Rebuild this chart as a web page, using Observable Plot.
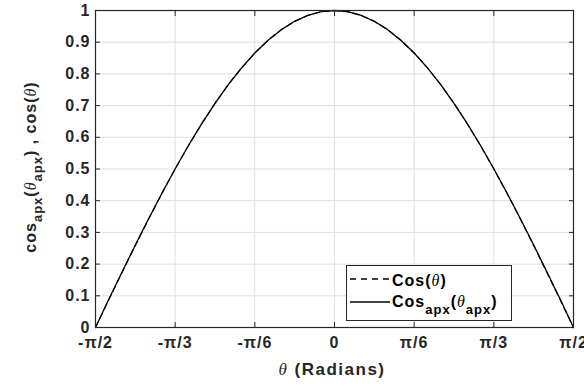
<!DOCTYPE html>
<html>
<head>
<meta charset="utf-8">
<script src="https://cdn.jsdelivr.net/npm/d3@7"></script>
<script src="https://cdn.jsdelivr.net/npm/@observablehq/plot@0.6"></script>
<style>
  html, body { margin: 0; padding: 0; background: #fff; }
  #chart { width: 584px; height: 390px; }
</style>
</head>
<body>
<div id="chart"></div>
<script>
// Angle samples, in degrees (axis shows them as fractions of π)
const thetaDeg = [-90,-85,-80,-75,-70,-65,-60,-55,-50,-45,-40,-35,-30,-25,-20,-15,-10,-5,0,5,10,15,20,25,30,35,40,45,50,55,60,65,70,75,80,85,90];
// cos(θ)
const cosValues = [0,0.0872,0.1736,0.2588,0.3420,0.4226,0.5,0.5736,0.6428,0.7071,0.7660,0.8192,0.8660,0.9063,0.9397,0.9659,0.9848,0.9962,1,0.9962,0.9848,0.9659,0.9397,0.9063,0.8660,0.8192,0.7660,0.7071,0.6428,0.5736,0.5,0.4226,0.3420,0.2588,0.1736,0.0872,0];
// cos_apx(θ_apx)
const cosApxValues = [0,0.0890,0.1752,0.2601,0.3431,0.4237,0.5008,0.5741,0.6432,0.7073,0.7661,0.8192,0.8659,0.9062,0.9396,0.9659,0.9848,0.9962,1,0.9962,0.9848,0.9659,0.9396,0.9062,0.8659,0.8192,0.7661,0.7073,0.6432,0.5741,0.5008,0.4237,0.3431,0.2601,0.1752,0.0890,0];
const xTickValues = [-90,-60,-30,0,30,60,90];
const xTickLabels = ["-π/2","-π/3","-π/6","0","π/6","π/3","π/2"];
const yTickValues = [0,0.1,0.2,0.3,0.4,0.5,0.6,0.7,0.8,0.9,1];
const yTickLabels = ["0","0.1","0.2","0.3","0.4","0.5","0.6","0.7","0.8","0.9","1"];

const cosData = thetaDeg.map((t, i) => ({t, v: cosValues[i]}));
const apxData = thetaDeg.map((t, i) => ({t, v: cosApxValues[i]}));
const xLabelMap = new Map(xTickValues.map((d, i) => [d, xTickLabels[i]]));
const yLabelMap = new Map(yTickValues.map((d, i) => [d, yTickLabels[i]]));

const axisColor = "#262626";
const gridColor = "#dfdfdf";
const ff = "'Liberation Sans', Arial, sans-serif";
const serif = "'Liberation Serif', 'DejaVu Serif', serif";

const plot = Plot.plot({
  width: 584,
  height: 390,
  marginLeft: 95,
  marginRight: 11,
  marginTop: 10,
  marginBottom: 63,
  style: {color: axisColor, fontFamily: ff, fontSize: "16px", fontWeight: "bold", letterSpacing: "1px", background: "#fff"},
  x: {domain: [-90, 90], label: null},
  y: {domain: [0, 1], label: null},
  marks: [
    Plot.gridX(xTickValues, {stroke: gridColor, strokeOpacity: 1, strokeWidth: 1}),
    Plot.gridY(yTickValues, {stroke: gridColor, strokeOpacity: 1, strokeWidth: 1}),
    Plot.line(cosData, {x: "t", y: "v", stroke: "#000", strokeWidth: 1.2, strokeDasharray: "6,4"}),
    Plot.line(apxData, {x: "t", y: "v", stroke: "#000", strokeWidth: 1.3}),
    Plot.frame({stroke: axisColor, strokeWidth: 1.2}),
    Plot.axisX(xTickValues, {anchor: "bottom", tickSize: -5, tickPadding: 14, tickFormat: d => xLabelMap.get(d), label: null}),
    Plot.axisX(xTickValues, {anchor: "top", tickSize: -5, tickFormat: () => "", label: null}),
    Plot.axisY(yTickValues, {anchor: "left", tickSize: -5, tickPadding: 10, tickFormat: d => yLabelMap.get(d), label: null}),
    Plot.axisY(yTickValues, {anchor: "right", tickSize: -5, tickFormat: () => "", label: null})
  ]
});
document.getElementById("chart").appendChild(plot);

// Axis titles and legend (text with sub-scripts)
const svg = d3.select(plot);

function addRuns(textSel, runs, fontSize) {
  runs.forEach(r => {
    const ts = textSel.append("tspan").text(r.text);
    if (r.theta) ts.attr("font-family", serif).attr("font-style", "italic").attr("font-weight", "normal");
    if (r.sub) ts.attr("font-size", Math.round(fontSize * 0.8) + "px");
    if (r.dy) ts.attr("dy", r.dy);
  });
}

// x-axis title
const xt = svg.append("text")
  .attr("x", 332).attr("y", 375)
  .attr("text-anchor", "middle")
  .attr("font-family", ff).attr("font-size", "17px").attr("font-weight", "bold")
  .attr("letter-spacing", "1.5px").attr("fill", axisColor);
addRuns(xt, [{text: "θ", theta: true}, {text: " (Radians)"}], 17);

// y-axis title
const yt = svg.append("text")
  .attr("transform", "translate(36,167) rotate(-90)")
  .attr("text-anchor", "middle")
  .attr("font-family", ff).attr("font-size", "16px").attr("font-weight", "bold")
  .attr("letter-spacing", "1px").attr("fill", axisColor);
addRuns(yt, [
  {text: "cos"}, {text: "apx", sub: true, dy: 6},
  {text: "(", dy: -6}, {text: "θ", theta: true}, {text: "apx", sub: true, dy: 6},
  {text: ") , cos(", dy: -6}, {text: "θ", theta: true}, {text: ")"}
], 16);

// legend
const lg = svg.append("g");
lg.append("rect").attr("x", 346.5).attr("y", 265.5).attr("width", 165).attr("height", 55)
  .attr("fill", "#fff").attr("stroke", axisColor).attr("stroke-width", 1);
lg.append("line").attr("x1", 350).attr("x2", 390).attr("y1", 279).attr("y2", 279)
  .attr("stroke", "#000").attr("stroke-width", 1.3).attr("stroke-dasharray", "6,5");
lg.append("line").attr("x1", 350).attr("x2", 390).attr("y1", 302).attr("y2", 302)
  .attr("stroke", "#000").attr("stroke-width", 1.3);
const l1 = lg.append("text").attr("x", 392).attr("y", 286)
  .attr("text-anchor", "start")
  .attr("font-family", ff).attr("font-size", "16px").attr("font-weight", "bold")
  .attr("letter-spacing", "1px").attr("fill", "#000");
addRuns(l1, [{text: "Cos("}, {text: "θ", theta: true}, {text: ")"}], 16);
const l2 = lg.append("text").attr("x", 392).attr("y", 307)
  .attr("text-anchor", "start")
  .attr("font-family", ff).attr("font-size", "16px").attr("font-weight", "bold")
  .attr("letter-spacing", "1px").attr("fill", "#000");
addRuns(l2, [
  {text: "Cos"}, {text: "apx", sub: true, dy: 7},
  {text: "(", dy: -7}, {text: "θ", theta: true}, {text: "apx", sub: true, dy: 7},
  {text: ")", dy: -7}
], 16);
</script>
</body>
</html>
